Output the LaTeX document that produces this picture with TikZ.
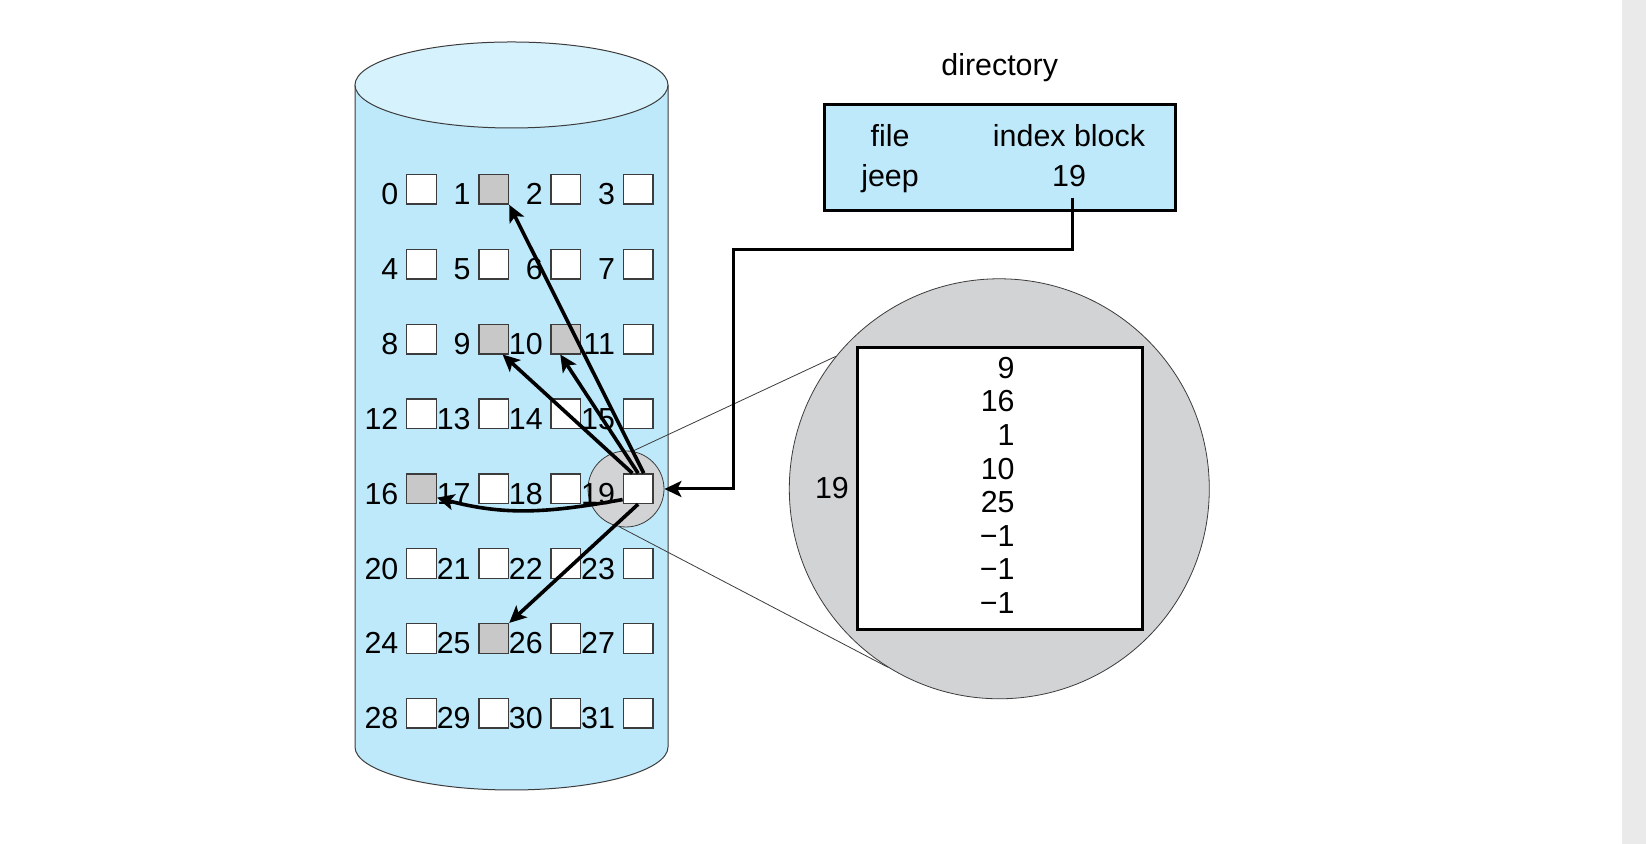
\documentclass[tikz,border=0pt]{standalone}
\usepackage{fontspec}
\setmainfont{Liberation Sans}
\usepackage{xcolor}
\usepackage{tikz}
\usetikzlibrary{positioning,arrows.meta}

\definecolor{diskblue}{RGB}{190,233,250}
\definecolor{disktop}{RGB}{214,242,252}
\definecolor{lensgray}{RGB}{210,211,213}
\definecolor{usedgray}{RGB}{200,200,200}
\definecolor{inkgray}{RGB}{60,60,60}
\definecolor{pagegray}{RGB}{234,234,234}

\begin{document}
\begin{tikzpicture}[
  x=0.5pt,y=0.5pt,
  font=\fontsize{15.2}{18}\selectfont,
  blk/.style={draw=inkgray,line width=0.7pt,fill=white,minimum size=14.8pt,inner sep=0pt},
  used/.style={blk,fill=usedgray},
  num/.style={inner sep=0pt,anchor=base east},
  lbl/.style={inner sep=0pt,anchor=base},
  lens/.style={circle,draw=inkgray,line width=0.4pt,fill=lensgray,inner sep=0pt},
  table/.style={draw,line width=1.5pt,inner sep=0pt},
  ptr/.style={-{Stealth[length=8.5pt,width=8pt,inset=2pt]},line width=1.8pt},
  guide/.style={draw=inkgray,line width=0.4pt}
]
\useasboundingbox (0,0) rectangle (1646,844);
\fill[white] (0,0) rectangle (1646,844);
\fill[pagegray] (1622,0) rectangle (1646,844);

% disk
\filldraw[fill=diskblue,draw=inkgray,line width=0.5pt] (355,759) -- (355,97)
  arc[start angle=180,end angle=360,x radius=156.5,y radius=43] -- (668,759);
\filldraw[fill=disktop,draw=inkgray,line width=0.5pt] (511.5,759) ellipse[x radius=156.5,y radius=43];

\node[lens,minimum size=38pt] (lens) at (626,355) {};

\foreach \r in {0,...,7}
  \foreach \c in {0,...,3}{
    \pgfmathtruncatemacro\n{4*\r+\c}
    \node[blk] (b\n) at (421.5+72.2*\c,654.7-74.86*\r) {};
    \node[num] at ([xshift=-3.6pt]b\n.south west) {\n};
  }
\foreach \n in {1,9,10,16,25} \node[used] at (b\n) {};

% directory
\node[table,fill=diskblue,minimum width=175.3pt,minimum height=52.8pt] (dir) at (999.7,686.2) {};
\node[above=10.6pt of dir,inner sep=0pt] (dirtitle) {directory};
\node[lbl] (filehd) at (890,697) {file};
\node[lbl] (idxhd) at (1069,697) {index block};
\node[lbl] (jeep) at (890,657) {jeep};
\node[lbl] (dirnum) at (1069,657) {19};

% index block 19
\node[lens,minimum size=210pt] (zoom) at (999.3,355.2) {};
\node[table,fill=white,minimum width=142.3pt,minimum height=141pt] (iblock) at (1000,355.7) {};
\foreach \v [count=\k from 0] in {9,16,1,10,25,−1,−1,−1}
  \node[num] (e\k) at (1015,465.7-33.6*\k) {\v};
\node[num] (zlabel) at (849.3,345.7) {19};

\draw[guide] (lens.80) -- (zoom.141);
\draw[guide] (lens.-100) -- (zoom.238);

\coordinate (bend) at (733,594);
\draw[ptr,line width=1.5pt] ([xshift=1.6pt,yshift=-5pt]dirnum.south) |- (bend) |- (lens.east);

\draw[ptr] (b19.70) -- (b1.south east);
\draw[ptr] (b19.110) -- (b9.-60);
\draw[ptr] (b19.north) -- (b10.-110);
\draw[ptr] (b19.-145) to[out=190,in=-15] (b16.-30);
\draw[ptr] (b19.south) -- (b25.north east);
\end{tikzpicture}
\end{document}
